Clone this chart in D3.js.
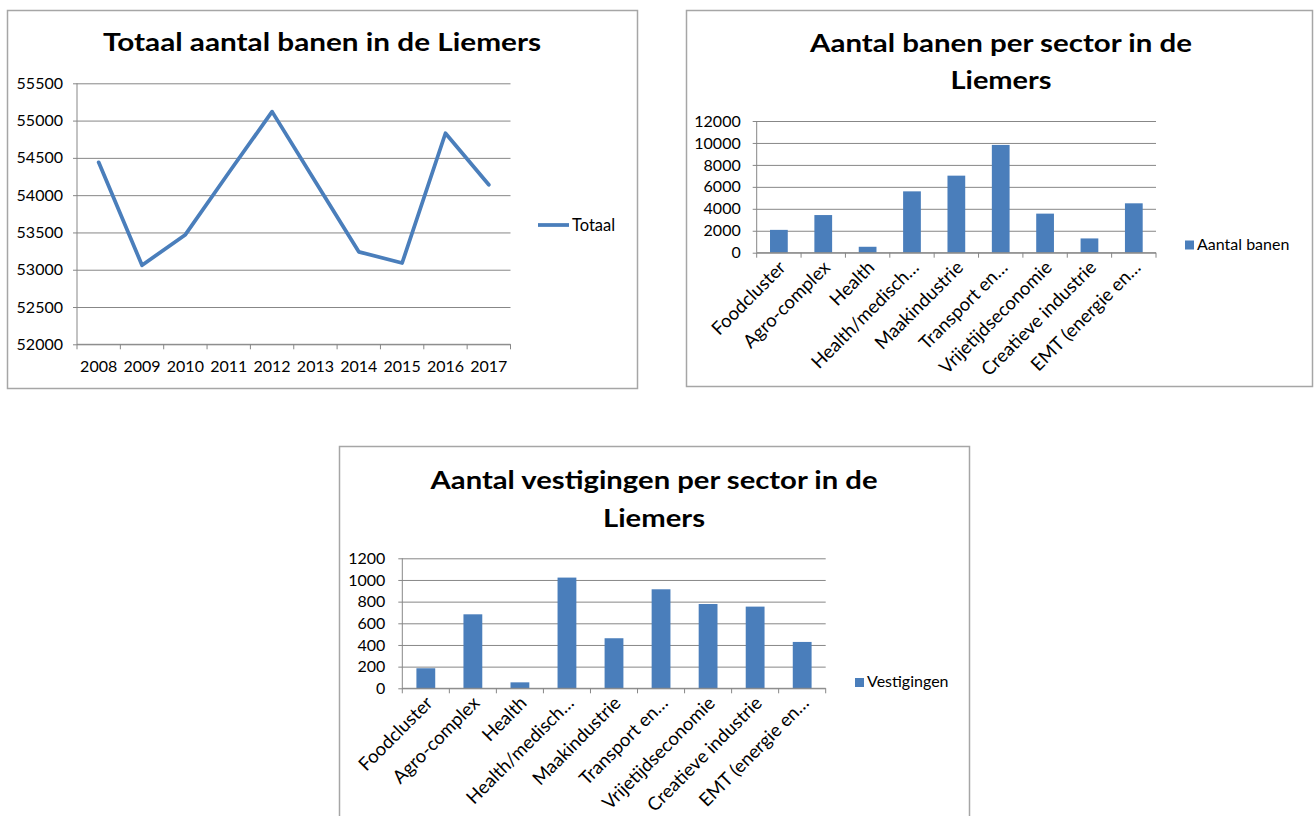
<!DOCTYPE html>
<html>
<head>
<meta charset="utf-8">
<script src="https://cdn.jsdelivr.net/npm/d3@7"></script>
<style>
  body { margin: 0; background: #fff; }
  svg { display: block; font-family: Lato, "Open Sans", sans-serif; }
</style>
</head>
<body>
<svg id="sheet" width="1314" height="816"></svg>
<script>
// Data
const years = ["2008", "2009", "2010", "2011", "2012", "2013", "2014", "2015", "2016", "2017"];
const totaalBanen = [54440, 53060, 53470, 54300, 55120, 54180, 53240, 53090, 54830, 54140];
const totaalTicks = [52000, 52500, 53000, 53500, 54000, 54500, 55000, 55500];

const sectors = ["Foodcluster", "Agro-complex", "Health", "Health/medisch…", "Maakindustrie",
    "Transport en…", "Vrijetijdseconomie", "Creatieve industrie", "EMT (energie en…"];
const banenPerSector = [2080, 3430, 540, 5590, 7020, 9820, 3560, 1300, 4500];
const banenTicks = [0, 2000, 4000, 6000, 8000, 10000, 12000];
const vestigingenPerSector = [185, 683, 55, 1022, 462, 914, 778, 754, 428];
const vestigingenTicks = [0, 200, 400, 600, 800, 1000, 1200];

// Layout / style
const BLUE = "#4a7ebb";
const GRID = "#878787";
const svg = d3.select("#sheet");

function frame(x, y, w, h) {
    svg.append("rect")
        .attr("x", x + 0.5).attr("y", y + 0.5)
        .attr("width", w).attr("height", h)
        .attr("fill", "#fff")
        .attr("stroke", "#a6a6a6")
        .attr("stroke-width", 1.5);
}

function title(lines, cx, baselines, widths) {
    lines.forEach((t, i) => {
        svg.append("text")
            .attr("x", cx).attr("y", baselines[i])
            .attr("text-anchor", "middle")
            .attr("font-weight", "bold")
            .attr("font-size", 24)
            .attr("textLength", widths[i])
            .attr("lengthAdjust", "spacingAndGlyphs")
            .attr("fill", "#000")
            .text(t);
    });
}

// value axis with gridlines, excel style
function valueAxis(g, y, ticks, w, pad) {
    const ax = g.append("g")
        .call(d3.axisLeft(y).tickValues(ticks).tickSize(-w).tickPadding(pad).tickFormat(d3.format("d")));
    ax.select(".domain").remove();
    ax.selectAll(".tick line").attr("x1", -4).attr("stroke", GRID);
    ax.selectAll(".tick text")
        .attr("fill", "#000")
        .style("font-size", "16px")
        .style("font-family", "Lato, sans-serif");
    g.append("line")
        .attr("x1", 0).attr("x2", 0)
        .attr("y1", y.range()[1]).attr("y2", y.range()[0])
        .attr("stroke", GRID);
}

// category axis: ticks on boundaries
function categoryAxis(g, xCat, h, rotated) {
    const [r0, r1] = xCat.range();
    g.append("line")
        .attr("x1", r0).attr("x2", r1)
        .attr("y1", h).attr("y2", h)
        .attr("stroke", GRID);
    const bounds = xCat.domain().map(c => xCat(c)).concat([r1]);
    g.selectAll(".bound")
        .data(bounds)
        .enter()
        .append("line")
        .attr("x1", d => d).attr("x2", d => d)
        .attr("y1", h).attr("y2", h + 5)
        .attr("stroke", GRID);
    const labels = g.selectAll(".cat")
        .data(xCat.domain())
        .enter()
        .append("text")
        .attr("fill", "#000")
        .text(d => d);
    if (rotated) {
        labels.attr("text-anchor", "end")
            .style("font-size", "18.5px")
            .attr("transform", d => `translate(${xCat(d) + xCat.bandwidth() / 2 + 8},${h + 16}) rotate(-45)`);
    } else {
        labels.attr("text-anchor", "middle")
            .style("font-size", "16px")
            .attr("x", d => xCat(d) + xCat.bandwidth() / 2)
            .attr("y", h + 27.5);
    }
}

// 1. Line chart
function renderLineChart() {
    frame(7, 10, 630, 378);
    title(["Totaal aantal banen in de Liemers"], 322, [51], [438]);

    const m = { left: 77, top: 83.3 };
    const w = 433.5, h = 261;
    const g = svg.append("g").attr("transform", `translate(${m.left},${m.top})`);

    const y = d3.scaleLinear().domain([52000, 55500]).range([h, 0]);
    const xCat = d3.scaleBand().domain(years).range([0, w]);

    valueAxis(g, y, totaalTicks, w, 14);
    categoryAxis(g, xCat, h, false);

    const line = d3.line()
        .x((d, i) => xCat(years[i]) + xCat.bandwidth() / 2)
        .y(d => y(d));

    g.append("path")
        .datum(totaalBanen)
        .attr("fill", "none")
        .attr("stroke", BLUE)
        .attr("stroke-width", 3.75)
        .attr("stroke-linejoin", "round")
        .attr("stroke-linecap", "round")
        .attr("d", line);

    // legend
    svg.append("line")
        .attr("x1", 538).attr("x2", 569).attr("y1", 225).attr("y2", 225)
        .attr("stroke", BLUE).attr("stroke-width", 3.75);
    svg.append("text")
        .attr("x", 572).attr("y", 230.5)
        .style("font-size", "16.5px")
        .text("Totaal");
}

// 2/3. Bar charts
function renderBarChart(opt) {
    frame(opt.frame[0], opt.frame[1], opt.frame[2], opt.frame[3]);
    title(opt.title, opt.titleX, opt.titleY, opt.titleW);

    const g = svg.append("g").attr("transform", `translate(${opt.left},${opt.top})`);
    const y = d3.scaleLinear().domain([0, d3.max(opt.ticks)]).range([opt.h, 0]);
    const xCat = d3.scaleBand().domain(sectors).range([0, opt.w]);
    const xBar = d3.scaleBand().domain(sectors).range([0, opt.w]).paddingInner(0.6).paddingOuter(0.3);

    valueAxis(g, y, opt.ticks, opt.w, opt.pad);

    g.selectAll(".bar")
        .data(opt.values)
        .enter()
        .append("rect")
        .attr("x", (d, i) => xBar(sectors[i]))
        .attr("width", xBar.bandwidth())
        .attr("y", d => y(d))
        .attr("height", d => opt.h - y(d))
        .attr("fill", BLUE);

    categoryAxis(g, xCat, opt.h, true);

    // legend
    svg.append("rect")
        .attr("x", opt.legend[0]).attr("y", opt.legend[1] - 9)
        .attr("width", 9).attr("height", 9)
        .attr("fill", BLUE);
    svg.append("text")
        .attr("x", opt.legend[0] + 12).attr("y", opt.legend[1])
        .style("font-size", "16px")
        .text(opt.legendText);
}

renderLineChart();

renderBarChart({
    frame: [686, 10, 626, 376],
    title: ["Aantal banen per sector in de", "Liemers"],
    titleX: 1001, titleY: [52, 89], titleW: [382, 101],
    left: 756.7, top: 121, w: 399.3, h: 131.7, pad: 16,
    ticks: banenTicks,
    values: banenPerSector,
    legend: [1185, 249.5],
    legendText: "Aantal banen"
});

renderBarChart({
    frame: [339, 446, 630, 390],
    title: ["Aantal vestigingen per sector in de", "Liemers"],
    titleX: 654, titleY: [489, 527], titleW: [447, 102],
    left: 402.3, top: 558.3, w: 423.4, h: 130, pad: 17,
    ticks: vestigingenTicks,
    values: vestigingenPerSector,
    legend: [855, 687],
    legendText: "Vestigingen"
});
</script>
</body>
</html>
